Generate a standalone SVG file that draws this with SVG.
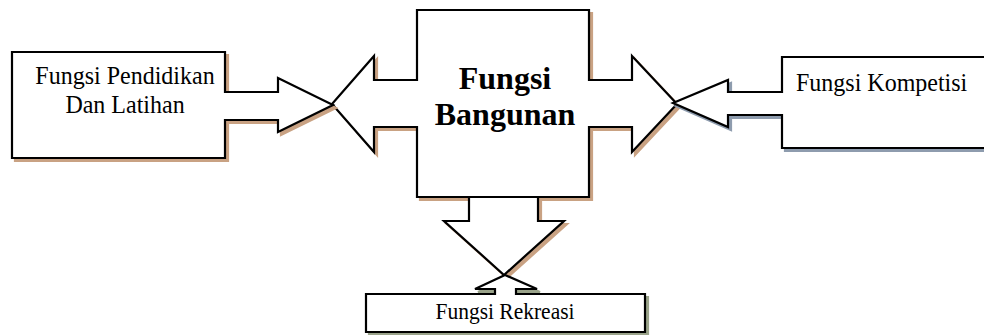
<svg xmlns="http://www.w3.org/2000/svg" width="984" height="335" viewBox="0 0 984 335">
  <style>
    .shape { fill: #ffffff; stroke: #000000; stroke-width: 2.2; stroke-linejoin: miter; }
    .brown { stroke: #c9a283; fill: #c9a283; stroke-width: 2.2; }
    .slate { stroke: #8e9cae; fill: #8e9cae; stroke-width: 2.2; }
    .olive { stroke: #9aa38a; fill: #9aa38a; stroke-width: 2.2; }
    text { font-family: 'Liberation Serif', 'Times New Roman', serif; fill: #000000; }
  </style>
  <rect width="984" height="335" fill="#ffffff"/>

  <!-- Central building-function block with left and right arrows -->
  <g id="fungsi-bangunan">
    <path class="brown" transform="translate(3,3)" d="M417,10 H589 V80 H632 V56 L677,104 L632,152 V127 H589 V197 H417 V127 H374 V152 L332,104 L374,56 V80 H417 Z"/>
    <path class="shape" d="M417,10 H589 V80 H632 V56 L677,104 L632,152 V127 H589 V197 H417 V127 H374 V152 L332,104 L374,56 V80 H417 Z"/>
    <text x="505" y="89" font-size="32" font-weight="bold" text-anchor="middle">Fungsi</text>
    <text x="505" y="125" font-size="32" font-weight="bold" text-anchor="middle">Bangunan</text>
  </g>

  <!-- Education and training callout -->
  <g id="fungsi-pendidikan">
    <path class="brown" transform="translate(3,3)" d="M12,52 H225 V92 H278 V78 L333,105 L278,132 V120 H225 V158 H12 Z"/>
    <path class="shape" d="M12,52 H225 V92 H278 V78 L333,105 L278,132 V120 H225 V158 H12 Z"/>
    <text transform="translate(125,84) scale(1,1.06)" font-size="24" text-anchor="middle">Fungsi Pendidikan</text>
    <text transform="translate(125,113) scale(1,1.06)" font-size="24" text-anchor="middle">Dan Latihan</text>
  </g>

  <!-- Competition callout -->
  <g id="fungsi-kompetisi">
    <path class="slate" transform="translate(3,3)" d="M782,57 H992 V148 H782 V115 H728 V127 L673,103 L728,80 V92 H782 Z"/>
    <path class="shape" d="M782,57 H992 V148 H782 V115 H728 V127 L673,103 L728,80 V92 H782 Z"/>
    <text transform="translate(796,91) scale(1,1.06)" font-size="24">Fungsi Kompetisi</text>
  </g>

  <!-- Downward arrow from the central block -->
  <g id="connectors">
    <path class="brown" transform="translate(3,3)" d="M469,197 V221 H444 L504,275 L564,221 H538 V197 Z"/>
    <path class="shape" d="M469,197 V221 H444 L504,275 L564,221 H538 V197 Z"/>
  </g>

  <!-- Recreation callout -->
  <g id="fungsi-rekreasi">
    <path class="olive" transform="translate(3,3)" d="M366,294 H495 V289 H475 L505,275 L537,289 H516 V294 H645 V332 H366 Z"/>
    <path class="shape" d="M366,294 H495 V289 H475 L505,275 L537,289 H516 V294 H645 V332 H366 Z"/>
    <text transform="translate(505,319) scale(1,1.08)" font-size="21.5" text-anchor="middle">Fungsi Rekreasi</text>
  </g>
</svg>
